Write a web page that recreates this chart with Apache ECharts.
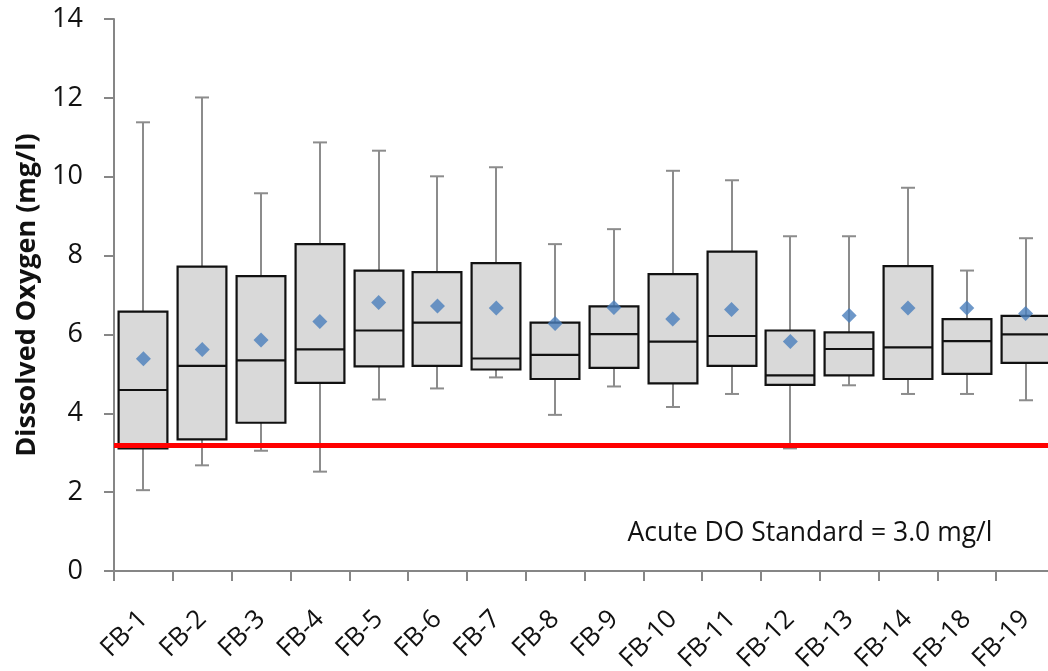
<!DOCTYPE html>
<html>
<head>
<meta charset="utf-8">
<script src="https://cdn.jsdelivr.net/npm/echarts@6/dist/echarts.min.js"></script>
<style>
html,body{margin:0;padding:0;background:#fff;}
#chart{width:1048px;height:671px;}
</style>
</head>
<body>
<div id="chart"></div>
<script>
const categories = ['FB-1','FB-2','FB-3','FB-4','FB-5','FB-6','FB-7','FB-8','FB-9','FB-10','FB-11','FB-12','FB-13','FB-14','FB-18','FB-19'];
const whiskerLow  = [2.05, 2.68, 3.05, 2.52, 4.35, 4.63, 4.91, 3.96, 4.68, 4.16, 4.49, 3.11, 4.71, 4.49, 4.49, 4.33];
const quartile1   = [3.11, 3.34, 3.76, 4.77, 5.19, 5.20, 5.11, 4.87, 5.15, 4.76, 5.20, 4.72, 4.96, 4.87, 5.00, 5.28];
const medians     = [4.59, 5.20, 5.34, 5.62, 6.10, 6.30, 5.39, 5.48, 6.01, 5.82, 5.96, 4.96, 5.63, 5.67, 5.83, 6.00];
const quartile3   = [6.58, 7.72, 7.48, 8.29, 7.62, 7.58, 7.81, 6.30, 6.71, 7.53, 8.10, 6.10, 6.05, 7.73, 6.39, 6.47];
const whiskerHigh = [11.38, 12.01, 9.58, 10.87, 10.66, 10.01, 10.24, 8.29, 8.67, 10.15, 9.91, 8.49, 8.49, 9.72, 7.62, 8.44];
const means       = [5.38, 5.62, 5.86, 6.33, 6.81, 6.72, 6.67, 6.28, 6.68, 6.39, 6.63, 5.82, 6.48, 6.67, 6.67, 6.53];
const standardLevel = 3.2;
const yTicks = [0, 2, 4, 6, 8, 10, 12, 14];

const boxData = categories.map((c, i) => [i, whiskerLow[i], quartile1[i], medians[i], quartile3[i], whiskerHigh[i]]);
const meanData = categories.map((c, i) => [i, means[i]]);

const FONT = 'Open Sans';
const AXIS_COLOR = '#868686';

function renderBox(params, api) {
  const idx = api.value(0);
  const pLow = api.coord([idx, api.value(1)]);
  const pQ1 = api.coord([idx, api.value(2)]);
  const pMed = api.coord([idx, api.value(3)]);
  const pQ3 = api.coord([idx, api.value(4)]);
  const pHigh = api.coord([idx, api.value(5)]);
  const band = api.size([1, 0])[0];
  const half = band * 0.83 / 2;
  const cx = Math.round(pLow[0]);
  const cap = 7;
  const wStyle = { stroke: '#8c8c8c', lineWidth: 2 };
  return {
    type: 'group',
    children: [
      { type: 'line', shape: { x1: cx, y1: pQ3[1], x2: cx, y2: pHigh[1] }, style: wStyle },
      { type: 'line', shape: { x1: cx - cap, y1: pHigh[1], x2: cx + cap, y2: pHigh[1] }, style: wStyle },
      { type: 'line', shape: { x1: cx, y1: pQ1[1], x2: cx, y2: pLow[1] }, style: wStyle },
      { type: 'line', shape: { x1: cx - cap, y1: pLow[1], x2: cx + cap, y2: pLow[1] }, style: wStyle },
      { type: 'rect', shape: { x: cx - half, y: pQ3[1], width: half * 2, height: pQ1[1] - pQ3[1] },
        style: { fill: '#d9d9d9', stroke: '#111111', lineWidth: 2.2 } },
      { type: 'line', shape: { x1: cx - half, y1: pMed[1], x2: cx + half, y2: pMed[1] },
        style: { stroke: '#111111', lineWidth: 2.2 } }
    ]
  };
}

const chart = echarts.init(document.getElementById('chart'), null, { renderer: 'canvas' });
chart.setOption({
  animation: false,
  backgroundColor: '#ffffff',
  grid: { left: 114, top: 19, width: 941, height: 552, containLabel: false, outerBoundsMode: 'none' },
  xAxis: {
    type: 'category',
    data: categories,
    boundaryGap: true,
    axisLine: { show: true, lineStyle: { color: AXIS_COLOR, width: 2 } },
    axisTick: { show: true, alignWithLabel: false, length: 10, lineStyle: { color: AXIS_COLOR, width: 2 } },
    axisLabel: { rotate: 45, interval: 0, margin: 44, fontFamily: FONT, fontSize: 26, color: '#111' },
    splitLine: { show: false }
  },
  yAxis: {
    type: 'value',
    min: 0, max: 14, interval: 2,
    axisLine: { show: true, lineStyle: { color: AXIS_COLOR, width: 2 } },
    axisTick: { show: true, length: 10, lineStyle: { color: AXIS_COLOR, width: 2 } },
    axisLabel: { margin: 31, fontFamily: FONT, fontSize: 27, color: '#111',
      formatter: v => yTicks.includes(v) ? String(v) : '' },
    splitLine: { show: false }
  },
  series: [
    {
      type: 'custom',
      renderItem: renderBox,
      data: boxData,
      encode: { x: 0, y: [1, 2, 3, 4, 5] },
      z: 2,
      silent: true
    },
    {
      type: 'scatter',
      data: meanData,
      symbol: 'diamond',
      symbolSize: 15,
      itemStyle: { color: '#4a7ebb' },
      z: 3,
      silent: true,
      markLine: {
        silent: true,
        symbol: 'none',
        label: { show: false },
        lineStyle: { color: '#ff0000', width: 5, type: 'solid' },
        emphasis: { disabled: true },
        data: [{ yAxis: standardLevel }]
      }
    }
  ],
  graphic: [
    {
      type: 'text',
      x: 27, y: 295,
      rotation: Math.PI / 2,
      style: {
        text: 'Dissolved Oxygen (mg/l)',
        fontFamily: FONT, fontSize: 27, fontWeight: 'bold', fill: '#111',
        align: 'center', verticalAlign: 'middle'
      }
    },
    {
      type: 'text',
      x: 810, y: 533,
      style: {
        text: 'Acute DO Standard = 3.0 mg/l',
        fontFamily: FONT, fontSize: 26.5, fill: '#111',
        align: 'center', verticalAlign: 'middle'
      }
    }
  ]
});
</script>
</body>
</html>
